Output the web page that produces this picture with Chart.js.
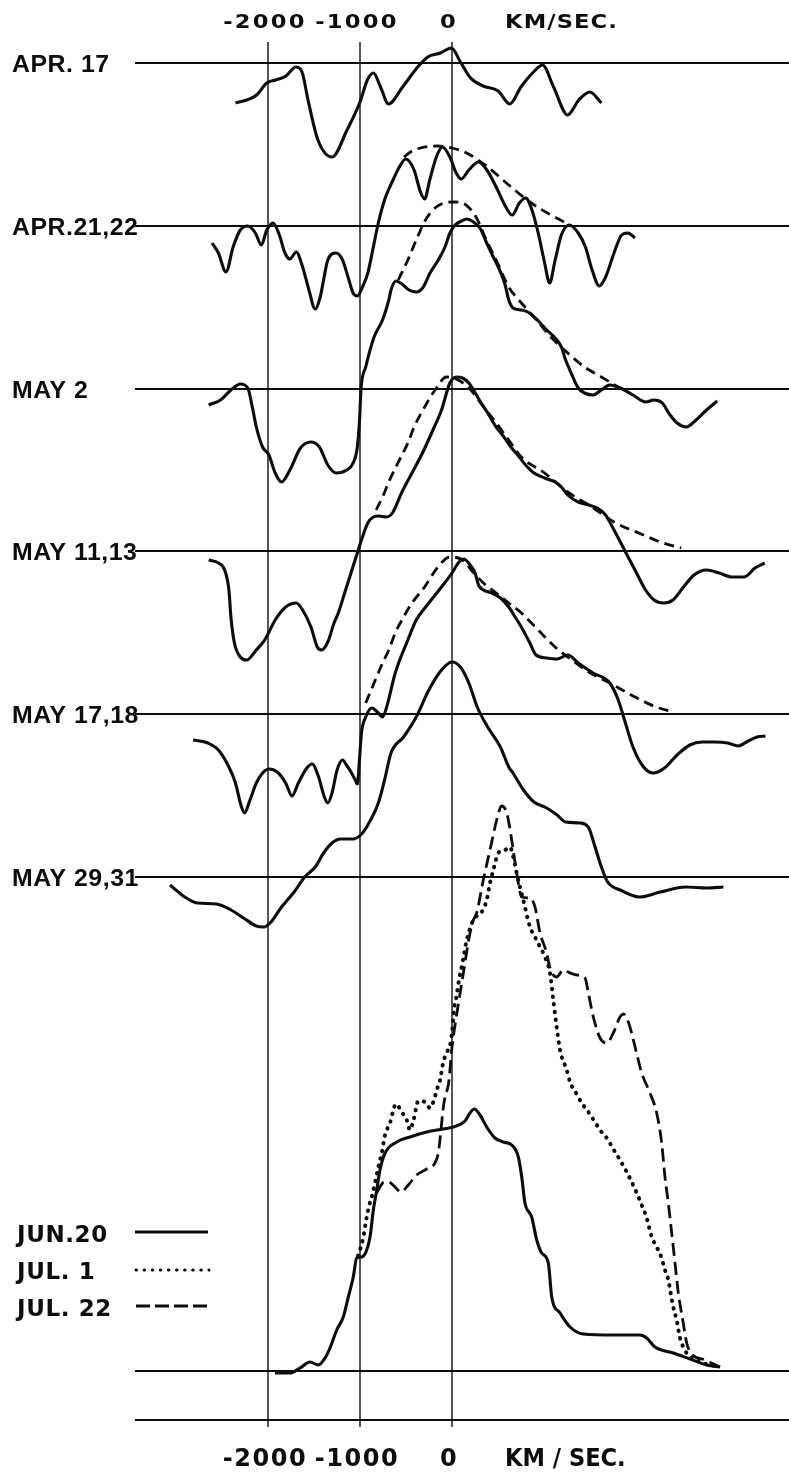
<!DOCTYPE html>
<html><head><meta charset="utf-8">
<script src="https://cdn.jsdelivr.net/npm/chart.js@4.4.1/dist/chart.umd.min.js"></script>
<style>html,body{margin:0;padding:0;background:#fff;}canvas{display:block;}</style>
</head><body>
<canvas id="c" width="789" height="1475"></canvas>
<script>
// ---------- data (velocity km/s, relative intensity above each baseline) ----------
const tickValues = [-2000, -1000, 0];
const tickLabels = ['-2000', '-1000', '0'];
const unitTop = 'KM/SEC.';
const unitBottom = 'KM / SEC.';
const rowLabels = ['APR. 17', 'APR.21,22', 'MAY 2', 'MAY 11,13', 'MAY 17,18', 'MAY 29,31'];
const rowBaselines = [1412, 1249, 1086, 924, 761, 598];
const bottomBaselines = [104, 55];
const legendLabels = ['JUN.20', 'JUL. 1', 'JUL. 22'];

const apr17 = [[-2353,-40],[-2233,-37],[-2123,-32],[-2014,-20],[-1915,-17],[-1805,-13],[-1696,-4],[-1630,-9],[-1565,-37],[-1457,-77],[-1304,-94],[-1141,-67],[-1000,-39],[-920,-17],[-854,-10],[-777,-24],[-690,-41],[-537,-24],[-373,-4],[-263,6],[-126,10],[-7,15],[92,1],[202,-15],[338,-23],[502,-28],[628,-41],[749,-24],[886,-9],[984,-2],[1104,-24],[1258,-52],[1378,-37],[1498,-29],[1624,-40]];

const apr21 = [[-2608,-17],[-2539,-27],[-2457,-46],[-2379,-21],[-2301,-4],[-2220,0],[-2137,-7],[-2073,-19],[-2013,-4],[-1945,3],[-1876,-9],[-1816,-27],[-1762,-33],[-1693,-26],[-1624,-41],[-1555,-64],[-1487,-83],[-1435,-72],[-1396,-54],[-1350,-34],[-1259,-27],[-1190,-34],[-1130,-51],[-1075,-67],[-1027,-70],[-978,-62],[-915,-47],[-855,-21],[-801,3],[-733,26],[-641,46],[-572,59],[-503,67],[-412,56],[-343,34],[-298,27],[-242,46],[-170,69],[-105,79],[-23,69],[46,53],[100,47],[183,56],[288,64],[379,56],[480,39],[585,19],[654,11],[732,23],[800,28],[869,16],[937,-7],[1007,-37],[1061,-57],[1121,-34],[1189,-9],[1272,1],[1372,-7],[1450,-21],[1523,-44],[1601,-60],[1670,-51],[1761,-27],[1844,-9],[1912,-7],[1989,-12]];
const apr21Fit = [[-522,69],[-435,75],[-343,78],[-161,80],[0,78],[160,73],[388,59],[617,41],[846,24],[1075,11],[1280,1]];

const may2 = [[-2645,-16],[-2516,-11],[-2402,-1],[-2301,5],[-2220,1],[-2164,-21],[-2127,-38],[-2059,-58],[-1990,-66],[-1922,-84],[-1853,-93],[-1762,-81],[-1647,-59],[-1533,-53],[-1441,-58],[-1350,-76],[-1259,-84],[-1145,-81],[-1075,-74],[-1029,-58],[-1005,-31],[-989,0],[-938,22],[-847,52],[-755,69],[-687,89],[-663,99],[-609,108],[-543,105],[-467,99],[-384,97],[-312,102],[-239,116],[-149,129],[-76,142],[-22,156],[33,164],[105,168],[160,170],[232,167],[304,161],[377,146],[449,132],[503,122],[572,106],[617,89],[663,81],[754,79],[823,77],[891,72],[960,66],[1029,59],[1121,51],[1189,42],[1235,29],[1295,16],[1372,1],[1440,-4],[1533,-6],[1624,-1],[1715,4],[1829,1],[1967,-6],[2104,-13],[2196,-11],[2287,-14],[2355,-24],[2447,-34],[2548,-38],[2653,-31],[2767,-21],[2882,-12]];
const may2Fit = [[-584,109],[-480,129],[-389,149],[-275,171],[-138,184],[33,187],[152,184],[261,172],[388,146],[480,129],[617,102],[754,86],[891,72],[1075,52],[1258,36],[1440,22],[1624,12],[1804,2]];

const may11 = [[-2645,-9],[-2539,-12],[-2471,-19],[-2425,-39],[-2402,-67],[-2365,-92],[-2301,-106],[-2233,-109],[-2127,-99],[-2036,-89],[-1922,-69],[-1808,-56],[-1693,-52],[-1624,-59],[-1533,-76],[-1464,-96],[-1418,-99],[-1350,-91],[-1282,-72],[-1236,-62],[-1167,-42],[-1098,-22],[-1029,-2],[-984,11],[-915,28],[-855,34],[-801,35],[-710,34],[-641,39],[-549,58],[-435,78],[-321,98],[-207,121],[-114,141],[-23,168],[46,174],[114,173],[183,168],[297,151],[388,138],[480,124],[549,116],[640,104],[732,94],[800,86],[891,78],[1007,73],[1121,69],[1189,64],[1258,56],[1372,49],[1487,46],[1578,43],[1670,36],[1761,21],[1875,1],[1989,-19],[2104,-39],[2196,-49],[2301,-52],[2401,-49],[2516,-36],[2630,-24],[2767,-19],[2904,-22],[3042,-26],[3179,-26],[3293,-17],[3399,-12]];
const may11Fit = [[-824,41],[-755,54],[-663,74],[-572,91],[-480,108],[-412,124],[-298,144],[-184,161],[-60,174],[68,171],[205,161],[342,144],[480,128],[617,111],[754,94],[1007,78],[1258,59],[1487,46],[1761,29],[2082,16],[2264,9],[2492,3]];

const may17 = [[-2814,-26],[-2653,-29],[-2539,-36],[-2425,-53],[-2357,-68],[-2288,-93],[-2255,-99],[-2196,-86],[-2127,-69],[-2059,-59],[-1990,-55],[-1899,-58],[-1808,-69],[-1739,-82],[-1670,-69],[-1578,-54],[-1520,-50],[-1450,-63],[-1387,-83],[-1350,-89],[-1304,-79],[-1249,-56],[-1190,-46],[-1147,-51],[-1098,-58],[-1052,-66],[-1029,-70],[-1006,-46],[-984,-19],[-938,-3],[-870,6],[-801,1],[-755,-3],[-710,7],[-617,41],[-480,74],[-389,94],[-252,111],[-114,127],[0,141],[68,151],[128,155],[197,149],[251,141],[288,129],[342,124],[435,121],[526,116],[617,107],[686,97],[754,87],[846,71],[914,59],[1029,56],[1143,55],[1258,59],[1372,51],[1533,41],[1715,31],[1807,14],[1875,-6],[1967,-33],[2082,-53],[2187,-59],[2310,-54],[2447,-41],[2585,-31],[2722,-28],[2859,-28],[2996,-29],[3111,-32],[3202,-28],[3316,-23],[3408,-22]];
const may17Fit = [[-938,11],[-847,31],[-755,51],[-687,64],[-617,81],[-526,97],[-435,111],[-298,127],[-161,146],[-23,157],[114,154],[228,142],[342,131],[480,121],[617,111],[754,101],[937,84],[1121,67],[1303,54],[1487,42],[1715,31],[1989,17],[2218,7],[2401,2]];

const may29 = [[-3065,-8],[-2905,-20],[-2768,-26],[-2562,-27],[-2402,-33],[-2265,-41],[-2127,-49],[-2046,-50],[-1967,-45],[-1853,-30],[-1716,-15],[-1601,0],[-1487,10],[-1396,24],[-1304,34],[-1213,38],[-1075,38],[-993,42],[-915,52],[-801,74],[-733,97],[-663,124],[-526,140],[-389,160],[-252,187],[-114,207],[0,215],[91,210],[183,194],[274,170],[388,150],[526,130],[617,110],[663,104],[777,87],[891,75],[1029,69],[1143,62],[1235,55],[1395,54],[1487,49],[1555,30],[1624,10],[1692,-5],[1829,-13],[2036,-20],[2264,-15],[2539,-10],[2767,-11],[2950,-10]];

const jun20 = [[-1924,-2],[-1761,-2],[-1652,3],[-1543,9],[-1453,6],[-1380,13],[-1326,23],[-1253,41],[-1182,54],[-1127,74],[-1073,94],[-1036,113],[-982,114],[-935,119],[-891,134],[-855,161],[-818,181],[-783,201],[-728,218],[-601,229],[-457,234],[-275,239],[-95,242],[14,244],[141,250],[196,258],[242,262],[304,256],[377,244],[467,233],[558,229],[649,226],[721,214],[758,194],[793,168],[866,154],[921,131],[975,118],[1047,108],[1084,74],[1174,58],[1283,44],[1427,37],[1753,36],[2043,36],[2116,33],[2207,24],[2405,18],[2587,12],[2768,6],[2913,4]];

const jul1 = [[-1022,115],[-1000,121],[-964,134],[-927,154],[-899,166],[-873,174],[-837,188],[-801,204],[-764,218],[-728,236],[-674,248],[-609,267],[-547,259],[-492,251],[-457,241],[-418,251],[-366,270],[-293,269],[-239,263],[-196,271],[-166,281],[-130,291],[-95,309],[-58,318],[-14,329],[3,341],[14,352],[22,362],[43,372],[62,383],[79,393],[105,404],[123,413],[160,431],[232,451],[323,459],[377,471],[413,488],[449,501],[503,518],[576,521],[630,524],[666,514],[703,498],[739,484],[775,471],[848,444],[902,434],[957,424],[1011,414],[1065,398],[1101,371],[1138,344],[1174,321],[1247,301],[1283,289],[1348,278],[1410,268],[1482,259],[1554,249],[1609,241],[1682,233],[1753,222],[1826,211],[1899,199],[1953,189],[2008,178],[2062,166],[2116,153],[2171,134],[2225,124],[2279,113],[2315,101],[2351,91],[2377,78],[2405,64],[2442,51],[2478,33],[2514,24],[2565,16],[2696,9],[2913,4]];

const jul22 = [[-818,178],[-783,184],[-739,189],[-692,189],[-620,184],[-558,179],[-475,186],[-384,196],[-275,202],[-185,208],[-149,218],[-123,238],[-98,261],[-76,274],[-40,286],[-22,301],[-11,314],[0,324],[33,346],[76,371],[120,396],[163,421],[196,438],[232,451],[268,458],[340,491],[413,521],[486,551],[540,565],[595,558],[649,531],[703,498],[758,474],[848,473],[902,464],[957,438],[1029,418],[1065,403],[1138,394],[1210,401],[1283,398],[1355,396],[1446,393],[1482,378],[1536,354],[1609,333],[1682,328],[1753,338],[1826,354],[1862,357],[1917,349],[1971,331],[2011,316],[2062,298],[2152,278],[2225,258],[2279,228],[2315,194],[2351,168],[2388,138],[2424,108],[2460,78],[2508,51],[2551,28],[2587,19],[2750,11],[2913,4]];

// ---------- build datasets ----------
const INK = '#0d0d0d';
const SOLID = [], DASH = [10, 6], DOT = [0.5, 7.2];
function series(pairs, base, dash, width) {
  return {
    data: pairs.map(p => ({x: p[0], y: base + p[1]})),
    showLine: true, pointRadius: 0, borderColor: INK, borderWidth: width || 3.1,
    borderDash: dash, borderCapStyle: dash === DOT ? 'round' : 'butt', borderJoinStyle: 'round',
    cubicInterpolationMode: 'monotone', fill: false
  };
}
const datasets = [];
// vertical reference lines at tick velocities
tickValues.forEach(v => datasets.push({
  data: [{x: v, y: 48}, {x: v, y: 1433}], showLine: true, pointRadius: 0,
  borderColor: INK, borderWidth: 1.4, tension: 0
}));
// horizontal baselines
rowBaselines.concat(bottomBaselines).forEach(b => datasets.push({
  data: [{x: -3446, y: b}, {x: 3663, y: b}], showLine: true, pointRadius: 0,
  borderColor: INK, borderWidth: 1.9, tension: 0
}));
datasets.push(series(apr17, rowBaselines[0], SOLID));
datasets.push(series(apr21, rowBaselines[1], SOLID));
datasets.push(series(apr21Fit, rowBaselines[1], DASH, 2.8));
datasets.push(series(may2, rowBaselines[2], SOLID));
datasets.push(series(may2Fit, rowBaselines[2], DASH, 2.8));
datasets.push(series(may11, rowBaselines[3], SOLID));
datasets.push(series(may11Fit, rowBaselines[3], DASH, 2.8));
datasets.push(series(may17, rowBaselines[4], SOLID));
datasets.push(series(may17Fit, rowBaselines[4], DASH, 2.8));
datasets.push(series(may29, rowBaselines[5], SOLID));
datasets.push(series(jun20, bottomBaselines[0], SOLID));
datasets.push(series(jul1, bottomBaselines[0], DOT, 4));
datasets.push(series(jul22, bottomBaselines[0], [13, 6], 2.8));

// ---------- text plugin ----------
function txt(ctx, s, x, y, font, sx, ls, align) {
  ctx.save();
  ctx.font = font;
  ctx.fillStyle = INK;
  if ('letterSpacing' in ctx) ctx.letterSpacing = (ls || 0) + 'px';
  ctx.textAlign = 'left';
  ctx.textBaseline = 'alphabetic';
  const w = ctx.measureText(s).width * sx;
  const x0 = align === 'center' ? x - w / 2 : x;
  ctx.translate(x0, y);
  ctx.scale(sx, 1);
  ctx.fillText(s, 0, 0);
  ctx.restore();
}
const textPlugin = {
  id: 'labels',
  afterDatasetsDraw(chart) {
    const ctx = chart.ctx, xs = chart.scales.x, ys = chart.scales.y;
    // top axis labels
    tickValues.forEach((v, i) => txt(ctx, tickLabels[i], xs.getPixelForValue(v) - 3, 28,
      'bold 20px "DejaVu Sans"', 1.13, 2, 'center'));
    txt(ctx, unitTop, xs.getPixelForValue(0) + 53, 28, 'bold 20px "DejaVu Sans"', 1.13, 1, 'left');
    // bottom axis labels
    tickValues.forEach((v, i) => txt(ctx, tickLabels[i], xs.getPixelForValue(v) - 3, 1466,
      'bold 24px "DejaVu Sans"', 1.0, 1.5, 'center'));
    txt(ctx, unitBottom, xs.getPixelForValue(0) + 53, 1466, 'bold 24px "DejaVu Sans"', 0.94, 0, 'left');
    // row labels
    rowLabels.forEach((s, i) => txt(ctx, s, 12, ys.getPixelForValue(rowBaselines[i]) + 8.5,
      'bold 23px "Liberation Sans"', 1.08, 0.5, 'left'));
    // legend
    const ly = [1233, 1270, 1307];
    legendLabels.forEach((s, i) => txt(ctx, s, 17, ly[i] + 8.5, 'bold 23px "DejaVu Sans"', 1.0, 0.6, 'left'));
    ctx.save();
    ctx.strokeStyle = INK;
    ctx.lineWidth = 3;
    ctx.beginPath(); ctx.moveTo(135, ly[0] - 1); ctx.lineTo(208, ly[0] - 1); ctx.stroke();
    ctx.lineWidth = 3; ctx.lineCap = 'round'; ctx.setLineDash([0.5, 7.6]);
    ctx.beginPath(); ctx.moveTo(136, ly[1]); ctx.lineTo(209, ly[1]); ctx.stroke();
    ctx.lineCap = 'butt'; ctx.lineWidth = 3; ctx.setLineDash([14, 5]);
    ctx.beginPath(); ctx.moveTo(136, ly[2] - 1); ctx.lineTo(208, ly[2] - 1); ctx.stroke();
    ctx.restore();
  }
};

new Chart(document.getElementById('c'), {
  type: 'scatter',
  data: {datasets},
  options: {
    responsive: false, animation: false, devicePixelRatio: 1,
    layout: {padding: 0},
    plugins: {legend: {display: false}, tooltip: {enabled: false}},
    scales: {
      x: {type: 'linear', min: -4913, max: 3663, display: false},
      y: {type: 'linear', min: 0, max: 1475, display: false}
    }
  },
  plugins: [textPlugin]
});
</script>
</body></html>
